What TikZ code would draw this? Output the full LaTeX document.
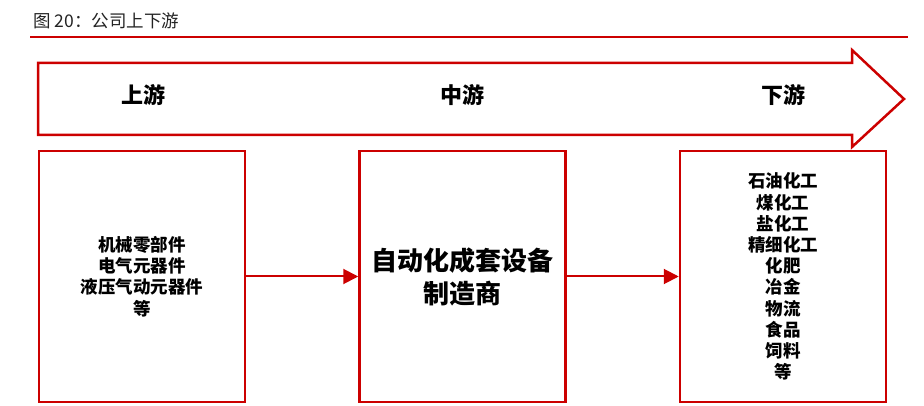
\documentclass[tikz,border=0pt]{standalone}
\usepackage{fontspec}
\newfontfamily\cjk{Noto Sans CJK SC}
\usetikzlibrary{arrows.meta}
\definecolor{chainred}{RGB}{204,0,0}
\definecolor{titlegray}{RGB}{35,35,35}
\tikzset{
  stage/.style={draw=chainred, line width=2.5pt, minimum width=206pt,
    minimum height=251pt, inner sep=0pt, align=center,
    font=\cjk\bfseries\fontsize{17.5}{21.2}\selectfont},
  flow/.style={draw=chainred, line width=2pt,
    -{Triangle[length=15pt,width=15pt]}},
  phase/.style={font=\cjk\bfseries\fontsize{22}{25}\selectfont}
}
\begin{document}
\begin{tikzpicture}[x=1pt,y=-1pt]
  \useasboundingbox (0,0) rectangle (924,406);
  % caption and rule
  \node[anchor=west, text=titlegray, font=\cjk\fontsize{17.5}{19}\selectfont]
    (title) at (30,21) {图 20：公司上下游};
  \coordinate (rulel) at (30,37);
  \coordinate (ruler) at (908,37);
  \draw[chainred, line width=1.6pt] (rulel) -- (ruler);
  % big arrow
  \draw[chainred, line width=2.5pt, line join=miter]
    (38,63) -- (852,63) -- (852,50) -- (904,99) -- (852,147)
    -- (852,135) -- (38,135) -- cycle;
  \node[phase] (up) at (143,95) {上游};
  \node[phase] (mid) at (462,95) {中游};
  \node[phase] (down) at (783,95) {下游};
  % stages
  \node[stage] (supply) at (142,276.5)
    {机械零部件\\电气元器件\\液压气动元器件\\等};
  \node[stage, font=\cjk\bfseries\fontsize{26}{33}\selectfont]
    (maker) at (462.5,276.5) {自动化成套设备\\制造商};
  \node[stage] (users) at (783,276.5)
    {石油化工\\煤化工\\盐化工\\精细化工\\化肥\\冶金\\物流\\食品\\饲料\\等};
  \draw[flow] (supply) -- (maker);
  \draw[flow] (maker) -- (users);
\end{tikzpicture}
\end{document}
